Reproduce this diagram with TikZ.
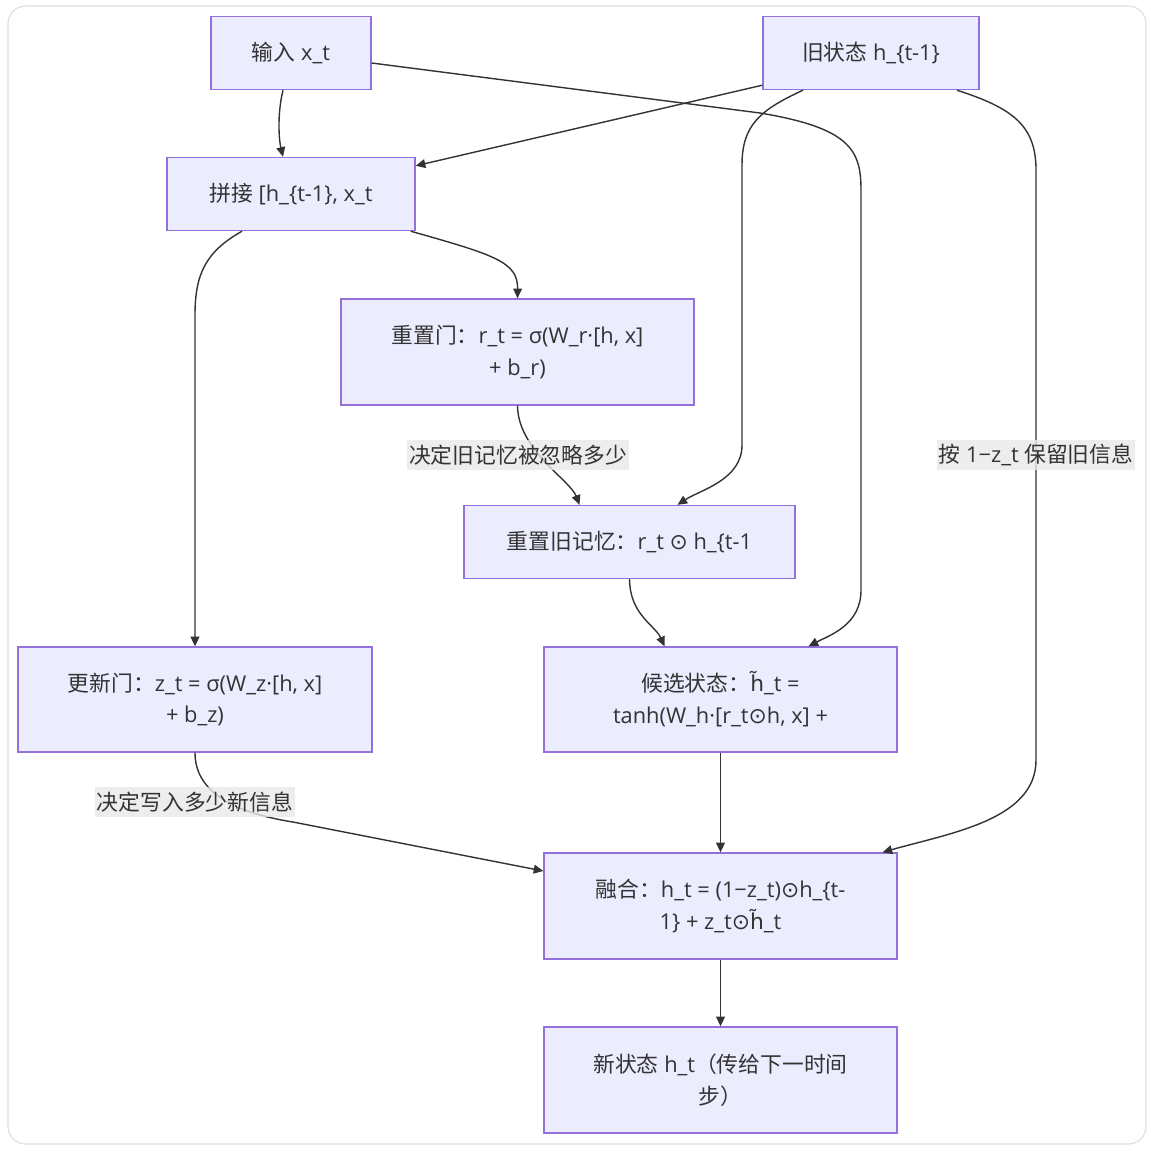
\documentclass[tikz,border=0pt]{standalone}
\usepackage{fontspec}
\setmainfont{Open Sans}
\newfontfamily\cjk{Noto Sans CJK SC}
\newfontfamily\symf{DejaVu Sans}
\usetikzlibrary{arrows.meta, positioning, calc}
\definecolor{nodefill}{HTML}{ECECFF}
\definecolor{nodeline}{HTML}{9370DB}
\definecolor{edgecol}{HTML}{333333}
\definecolor{lblbg}{HTML}{E8E8E8}
\definecolor{framecol}{HTML}{DDDDDD}
\newcommand{\hdot}{{\symf ⊙}}
\newcommand{\htil}{{\symf h̃}}

\begin{document}
\begin{tikzpicture}[x=0.02cm, y=-0.02cm,
    font=\fontsize{12.4}{18.2}\selectfont,
    box/.style={draw=nodeline, fill=nodefill, line width=0.8pt, inner sep=0pt,
      align=center, text=edgecol},
    short/.style={box, minimum height=1.46cm},
    tall/.style={box, minimum width=7.06cm, minimum height=2.12cm},
    arr/.style={draw=edgecol, line width=0.8pt, -{Triangle[length=5.5pt, width=5pt]}},
    lbl/.style={fill=lblbg, fill opacity=0.8, text opacity=1, text=edgecol,
      inner xsep=1pt, inner ysep=2.5pt}]
  \useasboundingbox (0,0) rectangle (1151,1150);
  \draw[framecol, line width=0.6pt, rounded corners=10] (8,6) rectangle (1146,1144);

  % Inputs
  \node[short, minimum width=3.2cm] (in) at (291,53) {{\cjk 输入} x\_t};
  \node[short, minimum width=4.32cm] (old) at (871,53) {{\cjk 旧状态} h\_\{t-1\}};
  \node[short, minimum width=4.96cm] (cat) at (291,194) {{\cjk 拼接} [h\_\{t-1\}, x\_t};

  % Gates
  \node[tall] (rgate) at (517.5,352) {{\cjk 重置门：}r\_t = σ(W\_r·[h, x]\\+ b\_r)};
  \node[short, minimum width=6.62cm] (rmem) at (629.5,542) {{\cjk 重置旧记忆：}r\_t \hdot{} h\_\{t-1};
  \node[tall, minimum width=7.08cm, minimum height=2.1cm] (ugate) at (195,699.5) {{\cjk 更新门：}z\_t = σ(W\_z·[h, x]\\+ b\_z)};
  \node[tall, minimum height=2.1cm] (cand) at (720.5,699.5) {{\cjk 候选状态：}\htil\_t =\\tanh(W\_h·[r\_t\hdot h, x] +};

  % Output
  \node[tall] (fuse) at (720.5,906) {{\cjk 融合：}h\_t = (1−z\_t)\hdot h\_\{t-\\1\} + z\_t\hdot\htil\_t};
  \node[tall] (new) at (720.5,1080) {{\cjk 新状态} h\_t{\cjk （传给下一时间}\\{\cjk 步）}};

  % Edges
  \draw[arr] ($(in.south)+(-8,0)$) .. controls (277,115) and (279,140) .. ($(cat.north)+(-8,0)$);
  \draw[arr] ($(old.south west)+(0,-5)$) -- ($(cat.north east)+(0,9)$);
  \draw[arr] ($(in.east)+(0,10)$) -- (760,113) .. controls (850,128) and (861,150) .. (861,190)
    -- (861,590) .. controls (861,625) and (830,635) .. ($(cand.north)+(88,0)$);
  \draw[arr] ($(old.south)+(-68,0)$) .. controls (760,110) and (742,125) .. (742,165)
    -- (742,445) .. controls (742,480) and (700,490) .. ($(rmem.north)+(48,0)$);
  \draw[arr] ($(old.south)+(86,0)$) .. controls (1012,108) and (1036,125) .. (1036,170)
    -- (1036,760) .. controls (1036,820) and (950,833) .. ($(fuse.north)+(162,0)$);
  \draw[arr] ($(cat.south east)+(-5,0)$) .. controls (495,255) and (518,262) .. (rgate.north);
  \draw[arr] ($(cat.south)+(-49,0)$) .. controls (205,252) and (195,275) .. (195,315) -- (ugate.north);
  \draw[arr] (rgate.south) .. controls (518,450) and (570,480) .. ($(rmem.north)+(-50,0)$);
  \draw[arr] (rmem.south) .. controls (630,615) and (655,625) .. ($(cand.north)+(-56,0)$);
  \draw[arr] (ugate.south) .. controls (195,790) and (230,812) .. (293,822) -- ($(fuse.west)+(0,-35)$);
  \draw[arr] (cand.south) -- (fuse.north);
  \draw[arr] (fuse.south) -- (new.north);

  % Edge labels
  \node[lbl] (lreset) at (518,455) {\cjk 决定旧记忆被忽略多少};
  \node[lbl] (lkeep) at (1036,455) {{\cjk 按} 1−z\_t {\cjk 保留旧信息}};
  \node[lbl] (lupdate) at (195,802) {\cjk 决定写入多少新信息};
\end{tikzpicture}
\end{document}
